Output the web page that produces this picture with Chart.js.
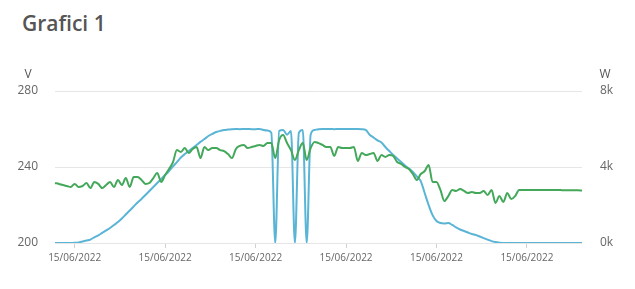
<!DOCTYPE html>
<html>
<head>
<meta charset="utf-8">
<script src="https://cdn.jsdelivr.net/npm/chart.js@4"></script>
<style>
    html, body { margin: 0; padding: 0; background: #fff; }
    .wrap { position: relative; width: 635px; height: 289px; }
    .title {
        position: absolute; left: 22px; top: 9px;
        font-family: 'Open Sans', sans-serif; font-weight: 600; font-size: 21px;
        color: #555;
    }
    canvas { position: absolute; left: 0; top: 0; }
</style>
</head>
<body>
<div class="wrap">
    <div class="title">Grafici 1</div>
    <canvas id="chart1" width="635" height="289"></canvas>
</div>
<script>
// tick labels shown on the time axis
const tickIndex = [5, 28, 51, 74, 97, 120];
const tickLabels = ['15/06/2022', '15/06/2022', '15/06/2022', '15/06/2022', '15/06/2022', '15/06/2022'];

// voltage (V), left axis
const voltage = [
    231.6, 231.1, 230.5, 230.0, 229.5, 231.1, 229.5, 230.0, 231.6, 228.9,
    232.1, 231.1, 228.9, 230.5, 232.1, 229.5, 233.2, 230.5, 234.2, 229.5,
    234.7, 234.7, 233.2, 231.1, 231.6, 234.2, 236.8, 232.1, 235.8, 238.9,
    242.6, 248.9, 247.9, 250.0, 247.4, 249.5, 250.5, 244.7, 250.5, 248.9,
    250.0, 250.0, 248.9, 248.4, 246.8, 244.7, 249.5, 251.1, 251.6, 250.0,
    250.5, 251.1, 251.6, 251.1, 252.6, 252.6, 244.7, 254.2, 256.8, 252.6,
    248.9, 243.7, 248.9, 252.6, 243.7, 250.0, 253.2, 252.6, 251.6, 250.5,
    250.5, 245.8, 250.5, 250.0, 250.0, 250.0, 250.5, 243.2, 247.4, 246.3,
    246.8, 247.4, 243.2, 246.3, 245.3, 246.3, 245.8, 242.6, 241.6, 240.0,
    238.9, 236.3, 233.2, 236.3, 237.9, 241.1, 232.1, 232.1, 227.9, 222.1,
    224.7, 227.9, 227.4, 228.4, 227.4, 226.3, 226.8, 226.3, 226.3, 227.4,
    225.3, 227.9, 221.1, 224.7, 221.6, 226.3, 223.2, 224.7, 227.9, 227.9,
    227.9, 227.9, 227.9, 227.9, 227.9, 227.9, 227.9, 227.9, 227.9, 227.8,
    227.8, 227.8, 227.7, 227.7, 227.6
];

// power (W), right axis
const power = [
    0, 0, 0, 0, 0, 10, 30, 80, 130, 180,
    300, 400, 530, 660, 790, 950, 1100, 1290, 1500, 1710,
    1920, 2130, 2320, 2530, 2740, 2950, 3160, 3370, 3580, 3790,
    4030, 4260, 4500, 4680, 4840, 5000, 5160, 5320, 5470, 5630,
    5740, 5840, 5900, 5950, 5970, 5990, 6000, 5990, 6000, 6000,
    5990, 5990, 6000, 5950, 5920, 5800, 0, 5900, 5950, 5700,
    5900, 0, 5800, 5950, 0, 5700, 5950, 5990, 6000, 6000,
    6000, 5990, 6000, 6000, 6000, 6000, 6000, 6000, 5990, 5950,
    5700, 5550, 5400, 5290, 5050, 4840, 4630, 4450, 4260, 4080,
    3920, 3740, 3500, 3260, 2630, 2000, 1470, 1160, 1050, 1030,
    1050, 950, 820, 710, 630, 550, 470, 420, 340, 260,
    180, 100, 50, 20, 0, 0, 0, 0, 0, 0,
    0, 0, 0, 0, 0, 0, 0, 0, 0, 0,
    0, 0, 0, 0, 0
];

// time of each sample (categories)
const times = voltage.map((v, i) => {
    const m = 5 * 60 + i * 7;
    return String(Math.floor(m / 60)).padStart(2, '0') + ':' + String(m % 60).padStart(2, '0');
});

const tickFont = { family: "'Open Sans', sans-serif", size: 12 };

// axis units drawn horizontally above each y axis
const unitTitles = {
    id: 'unitTitles',
    afterDraw(chart) {
        const ctx = chart.ctx;
        ctx.save();
        ctx.font = "12px 'Open Sans', sans-serif";
        ctx.fillStyle = '#555';
        ctx.textAlign = 'center';
        ctx.textBaseline = 'middle';
        ctx.fillText('V', 28, 75);
        ctx.fillText('W', 605, 75);
        ctx.restore();
    }
};

const ctx = document.getElementById('chart1').getContext('2d');
new Chart(ctx, {
    type: 'line',
    data: {
        labels: times,
        datasets: [{
            label: 'V',
            data: voltage,
            yAxisID: 'yV',
            borderColor: '#43a85a',
            borderWidth: 2,
            pointRadius: 0,
            tension: 0.3,
            cubicInterpolationMode: 'monotone'
        }, {
            label: 'W',
            data: power,
            yAxisID: 'yW',
            borderColor: '#5ab4d6',
            borderWidth: 2,
            pointRadius: 0,
            tension: 0.4,
            cubicInterpolationMode: 'monotone'
        }]
    },
    options: {
        responsive: false,
        animation: false,
        layout: { padding: { top: 91, left: 0, right: 0, bottom: 0 } },
        plugins: {
            legend: { display: false },
            tooltip: { enabled: false }
        },
        scales: {
            x: {
                type: 'category',
                offset: false,
                border: { display: false },
                grid: { drawOnChartArea: false, drawTicks: true, tickLength: 5, color: '#d0d0d0' },
                ticks: {
                    autoSkip: false,
                    maxRotation: 0,
                    padding: 4,
                    color: '#666',
                    font: { family: "'Open Sans', sans-serif", size: 10 },
                    callback: function(value) {
                        const k = tickIndex.indexOf(value);
                        return k >= 0 ? tickLabels[k] : '';
                    }
                },
                afterBuildTicks: function(scale) {
                    scale.ticks = scale.ticks.filter(t => tickIndex.includes(t.value));
                },
                afterFit: function(scale) { scale.height = 46; }
            },
            yV: {
                position: 'left',
                min: 200,
                max: 280,
                border: { display: false },
                grid: { color: '#e6e6e6', drawTicks: false },
                ticks: { stepSize: 40, padding: 17, color: '#666', font: tickFont },
                afterFit: function(scale) { scale.width = 55; }
            },
            yW: {
                position: 'right',
                min: 0,
                max: 8000,
                border: { display: false },
                grid: { drawOnChartArea: false, drawTicks: false },
                ticks: {
                    stepSize: 4000,
                    padding: 18,
                    color: '#666',
                    font: tickFont,
                    callback: function(value) { return (value / 1000) + 'k'; }
                },
                afterFit: function(scale) { scale.width = 53; }
            }
        }
    },
    plugins: [unitTitles]
});
</script>
</body>
</html>
